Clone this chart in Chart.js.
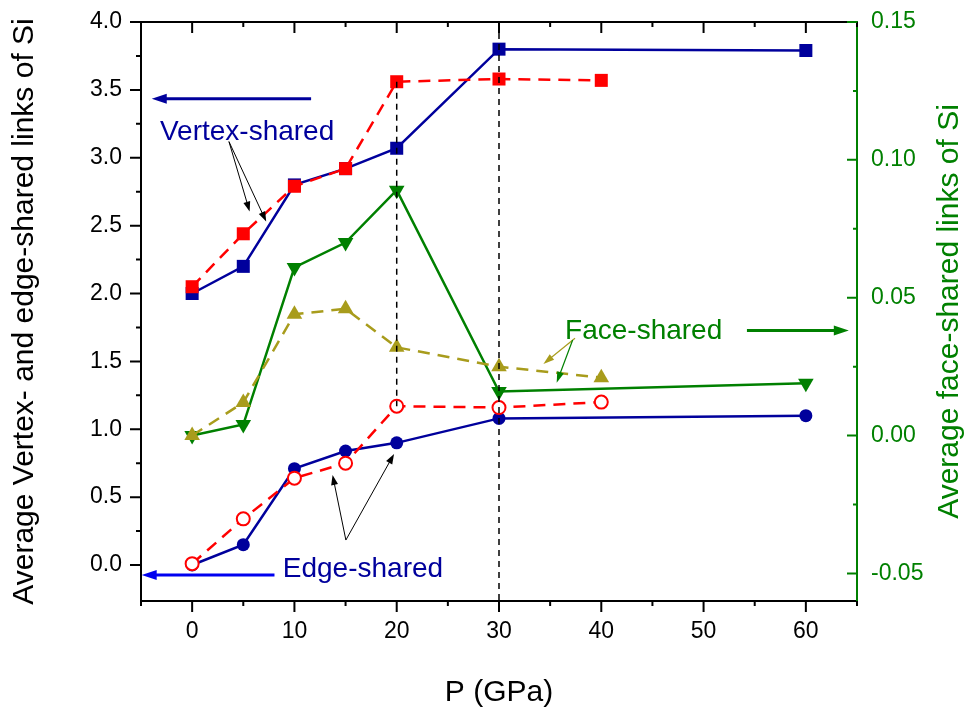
<!DOCTYPE html>
<html>
<head>
<meta charset="utf-8">
<script src="https://cdn.jsdelivr.net/npm/chart.js@4.4.1/dist/chart.umd.min.js"></script>
<style>
  html, body { margin: 0; padding: 0; background: #fff; }
</style>
</head>
<body>
<canvas id="linksChart" width="974" height="708"></canvas>
<script>
// Pressure (GPa) of the two sets of runs
const pressureA = [0, 5, 10, 15, 20, 30, 60];
const pressureB = [0, 5, 10, 15, 20, 30, 40];

// Left axis: vertex- and edge-shared links
const vertexA = [2.00, 2.20, 2.80, 2.92, 3.07, 3.80, 3.79];
const edgeA = [0.00, 0.15, 0.71, 0.84, 0.90, 1.08, 1.10];
const vertexB = [2.05, 2.44, 2.79, 2.92, 3.56, 3.58, 3.57];
const edgeB = [0.01, 0.34, 0.64, 0.75, 1.17, 1.16, 1.20];

// Right axis: face-shared links
const faceA = [0.000, 0.004, 0.061, 0.070, 0.089, 0.016, 0.019];
const faceB = [0.000, 0.012, 0.044, 0.046, 0.032, 0.025, 0.021];

// Axis ranges
const X_MIN = -5, X_MAX = 65;
const Y_MIN = -0.265, Y_MAX = 4.0;
const Y2_MIN = -0.06, Y2_MAX = 0.15;

// Dashed guide lines at 20 and 30 GPa
const guide20 = [vertexB[4], edgeB[4]];
const guide30 = [Y_MAX, Y_MIN];

const NAVY = "#00009c";
const RED = "#ff0000";
const GREEN = "#008000";
const OLIVE = "#a89c1c";
const FONT = "'Liberation Sans', Arial, Helvetica, sans-serif";

// Annotation texts and arrows (in left-axis data units)
const labelNotes = [
  { text: "Vertex-shared", x: -3.15, y: 3.134, color: NAVY },
  { text: "Edge-shared", x: 8.86, y: -0.086, color: NAVY },
  { text: "Face-shared", x: 36.46, y: 1.664, color: GREEN },
];
const arrowNotes = [
  { from: [11.63, 3.435], to: [-3.95, 3.435], color: NAVY, width: 3, head: 15, half: 5 },
  { from: [8.05, -0.074], to: [-4.93, -0.074], color: "#0000f0", width: 3, head: 15, half: 5 },
  { from: [54.24, 1.727], to: [64.2, 1.727], color: GREEN, width: 3, head: 15, half: 5 },
  { from: [3.6, 3.119], to: [5.62, 2.604], color: "#000", width: 1, head: 10, half: 3.5 },
  { from: [3.6, 3.119], to: [7.24, 2.53], color: "#000", width: 1, head: 10, half: 3.5 },
  { from: [15.03, 0.184], to: [13.73, 0.663], color: "#000", width: 1, head: 10, half: 3.5 },
  { from: [15.03, 0.184], to: [19.74, 0.818], color: "#000", width: 1, head: 10, half: 3.5 },
  { from: [37.43, 1.671], to: [34.34, 1.481], color: OLIVE, width: 1.2, head: 11, half: 3.5 },
  { from: [37.2, 1.658], to: [35.64, 1.343], color: GREEN, width: 1.2, head: 11, half: 3.5 },
];

const pts = (xs, ys) => xs.map((x, i) => ({ x: x, y: ys[i] }));
const isMultiple = (v, step) => Math.abs(v / step - Math.round(v / step)) < 1e-6;

Chart.defaults.font.family = FONT;

// Tick marks: outward on left/bottom, inward on top/right, with minor ticks
const tickMarks = {
  id: "tickMarks",
  afterDraw(chart) {
    const ctx = chart.ctx;
    const { left, right, top, bottom } = chart.chartArea;
    const sx = chart.scales.x, sy = chart.scales.y, sy2 = chart.scales.y2;
    ctx.save();
    ctx.lineWidth = 2;
    ctx.strokeStyle = "#000";
    ctx.beginPath();
    sx.ticks.forEach((t) => {
      if (!isMultiple(t.value, 5)) return;
      const px = sx.getPixelForValue(t.value);
      const len = isMultiple(t.value, 10) ? 11 : 5;
      ctx.moveTo(px, bottom); ctx.lineTo(px, bottom + len);
      ctx.moveTo(px, top); ctx.lineTo(px, top + len);
    });
    sy.ticks.forEach((t) => {
      if (!isMultiple(t.value, 0.25)) return;
      const py = sy.getPixelForValue(t.value);
      const len = isMultiple(t.value, 0.5) ? 11 : 5;
      ctx.moveTo(left - len, py); ctx.lineTo(left, py);
    });
    ctx.stroke();
    ctx.strokeStyle = GREEN;
    ctx.beginPath();
    sy2.ticks.forEach((t) => {
      if (!isMultiple(t.value, 0.025)) return;
      const py = sy2.getPixelForValue(t.value);
      const len = isMultiple(t.value, 0.05) ? 10 : 4;
      ctx.moveTo(right - len, py); ctx.lineTo(right, py);
    });
    ctx.stroke();

    // right axis title reads bottom-to-top like the left one
    ctx.translate(950, (top + bottom) / 2);
    ctx.rotate(-Math.PI / 2);
    ctx.font = "30px " + FONT;
    ctx.fillStyle = GREEN;
    ctx.textAlign = "center";
    ctx.textBaseline = "middle";
    ctx.fillText("Average face-shared links of Si", 0, 0);
    ctx.restore();
  },
};

// Text labels and arrows
const noteLayer = {
  id: "noteLayer",
  afterDatasetsDraw(chart) {
    const { ctx } = chart;
    const sx = chart.scales.x, sy = chart.scales.y;
    ctx.save();
    arrowNotes.forEach((a) => {
      const x1 = sx.getPixelForValue(a.from[0]), y1 = sy.getPixelForValue(a.from[1]);
      const x2 = sx.getPixelForValue(a.to[0]), y2 = sy.getPixelForValue(a.to[1]);
      const ang = Math.atan2(y2 - y1, x2 - x1);
      const bx = x2 - Math.cos(ang) * a.head, by = y2 - Math.sin(ang) * a.head;
      ctx.strokeStyle = a.color;
      ctx.fillStyle = a.color;
      ctx.lineWidth = a.width;
      ctx.beginPath();
      ctx.moveTo(x1, y1);
      ctx.lineTo(bx + Math.cos(ang) * 2, by + Math.sin(ang) * 2);
      ctx.stroke();
      ctx.beginPath();
      ctx.moveTo(x2, y2);
      ctx.lineTo(bx + Math.sin(ang) * a.half, by - Math.cos(ang) * a.half);
      ctx.lineTo(bx - Math.sin(ang) * a.half, by + Math.cos(ang) * a.half);
      ctx.closePath();
      ctx.fill();
    });
    ctx.font = "28px " + FONT;
    ctx.textAlign = "left";
    ctx.textBaseline = "alphabetic";
    labelNotes.forEach((n) => {
      ctx.fillStyle = n.color;
      ctx.fillText(n.text, sx.getPixelForValue(n.x), sy.getPixelForValue(n.y));
    });
    ctx.restore();
  },
};

// keep the plot box fixed regardless of label overhang
const fixWidth = (w) => (s) => { s.width = w; s.paddingTop = 0; s.paddingBottom = 0; };
const fixHeight = (h) => (s) => { s.height = h; s.paddingLeft = 0; s.paddingRight = 0; };

const ctx = document.getElementById("linksChart").getContext("2d");

new Chart(ctx, {
  type: "line",
  data: {
    datasets: [
      {
        label: "guide 30",
        data: pts([30, 30], guide30),
        borderColor: "#000",
        borderWidth: 1.5,
        borderDash: [6, 5],
        pointRadius: 0,
        yAxisID: "y",
      },
      {
        label: "guide 20",
        data: pts([20, 20], guide20),
        borderColor: "#000",
        borderWidth: 1.5,
        borderDash: [6, 5],
        pointRadius: 0,
        yAxisID: "y",
      },
      {
        label: "Edge-shared (B)",
        data: pts(pressureB, edgeB),
        borderColor: RED,
        borderWidth: 2.5,
        borderDash: [12, 8],
        pointStyle: "circle",
        pointRadius: 6.5,
        pointBorderWidth: 2,
        pointBorderColor: RED,
        pointBackgroundColor: "#fff",
        yAxisID: "y",
      },
      {
        label: "Face-shared (B)",
        data: pts(pressureB, faceB),
        borderColor: OLIVE,
        borderWidth: 2.5,
        borderDash: [12, 8],
        pointStyle: "triangle",
        pointRadius: 9,
        pointBorderWidth: 0,
        pointBackgroundColor: OLIVE,
        yAxisID: "y2",
      },
      {
        label: "Face-shared (A)",
        data: pts(pressureA, faceA),
        borderColor: GREEN,
        borderWidth: 2.5,
        pointStyle: "triangle",
        pointRotation: 180,
        pointRadius: 9,
        pointBorderWidth: 0,
        pointBackgroundColor: GREEN,
        yAxisID: "y2",
      },
      {
        label: "Vertex-shared (B)",
        data: pts(pressureB, vertexB),
        borderColor: RED,
        borderWidth: 2.5,
        borderDash: [12, 8],
        pointStyle: "rect",
        pointRadius: 9.2,
        pointBorderWidth: 0,
        pointBackgroundColor: RED,
        yAxisID: "y",
      },
      {
        label: "Edge-shared (A)",
        data: pts(pressureA, edgeA),
        borderColor: NAVY,
        borderWidth: 2.5,
        pointStyle: "circle",
        pointRadius: 6.5,
        pointBorderWidth: 0,
        pointBackgroundColor: NAVY,
        yAxisID: "y",
      },
      {
        label: "Vertex-shared (A)",
        data: pts(pressureA, vertexA),
        borderColor: NAVY,
        borderWidth: 2.5,
        pointStyle: "rect",
        pointRadius: 9.2,
        pointBorderWidth: 0,
        pointBackgroundColor: NAVY,
        yAxisID: "y",
      },
    ],
  },
  options: {
    responsive: false,
    devicePixelRatio: 1,
    animation: false,
    events: [],
    layout: { padding: 0 },
    plugins: {
      legend: { display: false },
      tooltip: { enabled: false },
    },
    scales: {
      x: {
        type: "linear",
        position: "bottom",
        min: X_MIN,
        max: X_MAX,
        afterFit: fixHeight(107),
        grid: { display: false, drawTicks: false },
        border: { display: true, color: "#000", width: 2 },
        ticks: {
          stepSize: 5,
          autoSkip: false,
          maxRotation: 0,
          padding: 17,
          color: "#000",
          font: { size: 23 },
          callback: (v) => (isMultiple(v, 10) && v >= 0 && v <= 60 ? String(v) : ""),
        },
        title: {
          display: true,
          text: "P (GPa)",
          color: "#000",
          font: { size: 30, lineHeight: 1 },
          padding: 0,
        },
      },
      xTop: {
        type: "linear",
        position: "top",
        min: X_MIN,
        max: X_MAX,
        afterFit: fixHeight(22),
        grid: { display: false, drawTicks: false },
        border: { display: true, color: "#000", width: 2 },
        ticks: { display: false },
      },
      y: {
        type: "linear",
        position: "left",
        min: Y_MIN,
        max: Y_MAX,
        afterFit: fixWidth(141),
        grid: { display: false, drawTicks: false },
        border: { display: true, color: "#000", width: 2 },
        ticks: {
          stepSize: 0.25,
          autoSkip: false,
          padding: 19,
          color: "#000",
          font: { size: 23 },
          callback: (v) => (isMultiple(v, 0.5) ? v.toFixed(1) : ""),
        },
        title: {
          display: true,
          text: "Average Vertex- and edge-shared links of Si",
          color: "#000",
          font: { size: 30 },
          padding: { top: 7, bottom: 0 },
        },
      },
      y2: {
        type: "linear",
        position: "right",
        min: Y2_MIN,
        max: Y2_MAX,
        afterFit: fixWidth(117),
        grid: { display: false, drawTicks: false },
        border: { display: true, color: GREEN, width: 2 },
        ticks: {
          stepSize: 0.025,
          autoSkip: false,
          padding: 14,
          color: GREEN,
          font: { size: 23 },
          callback: (v) => (isMultiple(v, 0.05) ? v.toFixed(2) : ""),
        },
      },
    },
  },
  plugins: [noteLayer, tickMarks],
});
</script>
</body>
</html>
